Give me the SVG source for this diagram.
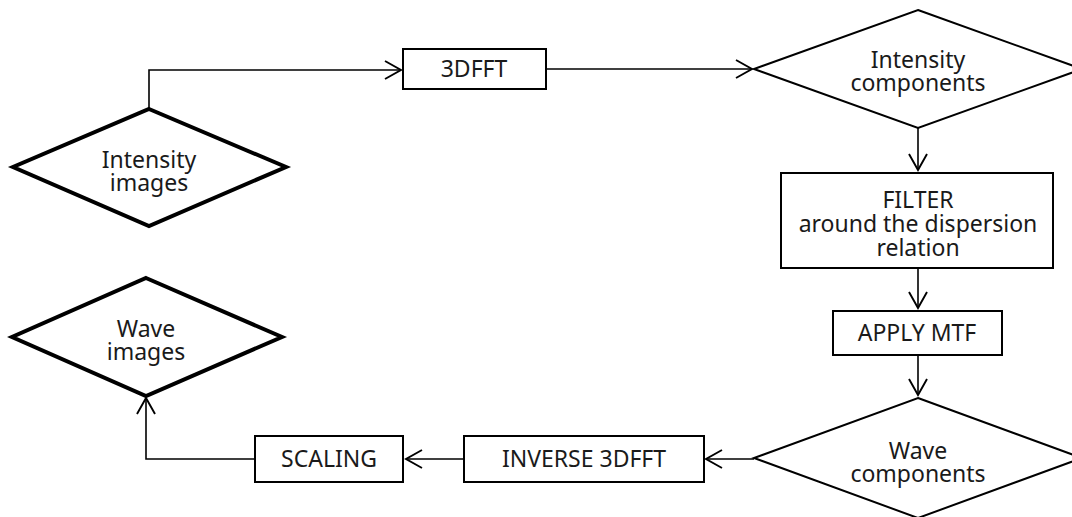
<svg xmlns="http://www.w3.org/2000/svg" width="1072" height="517" viewBox="0 0 1072 517">
  <style>
    text { font-family: "Noto Sans", "DejaVu Sans", sans-serif; font-size: 23px; fill: #1a1a1a; text-anchor: middle; }
    .box { fill: #fff; stroke: #000; stroke-width: 2; }
    .io { fill: #fff; stroke: #000; stroke-width: 4; stroke-linejoin: miter; }
    .dec { fill: #fff; stroke: #000; stroke-width: 2; }
    .link { fill: none; stroke: #000; stroke-width: 1.6; marker-end: url(#open); }
  </style>
  <defs>
    <marker id="open" viewBox="0 0 20 20" refX="18" refY="10" markerWidth="20" markerHeight="20" markerUnits="userSpaceOnUse" orient="auto">
      <path d="M2,1 L18,10 L2,19" fill="none" stroke="#000" stroke-width="1.9"/>
    </marker>
  </defs>

  <g id="connectors">
    <path class="link" d="M149,108 V70 H401"/>
    <path class="link" d="M546,69 H752"/>
    <path class="link" d="M918,128 V170"/>
    <path class="link" d="M918,268 V308"/>
    <path class="link" d="M918,355 V395"/>
    <path class="link" d="M754,459 H706"/>
    <path class="link" d="M464,459 H406"/>
    <path class="link" d="M255,459 H146 V398"/>
  </g>

  <g id="intensity-images">
    <polygon class="io" points="149,109 286,167 149,226 13,167"/>
    <text x="149" y="168">Intensity<tspan x="149" dy="23">images</tspan></text>
  </g>

  <g id="fft">
    <rect class="box" x="403" y="49" width="143" height="40"/>
    <text x="474" y="77">3DFFT</text>
  </g>

  <g id="intensity-components">
    <polygon class="dec" points="918,10 1082,69 918,128 754,69"/>
    <text x="918" y="68">Intensity<tspan x="918" dy="23">components</tspan></text>
  </g>

  <g id="filter">
    <rect class="box" x="781" y="173" width="272" height="95"/>
    <text x="918" y="208">FILTER<tspan x="918" dy="24">around the dispersion</tspan><tspan x="918" dy="24">relation</tspan></text>
  </g>

  <g id="mtf">
    <rect class="box" x="833" y="311" width="169" height="44"/>
    <text x="917" y="341">APPLY MTF</text>
  </g>

  <g id="wave-components">
    <polygon class="dec" points="918,398 1082,458 918,518 754,458"/>
    <text x="918" y="459">Wave<tspan x="918" dy="23">components</tspan></text>
  </g>

  <g id="inverse-fft">
    <rect class="box" x="464" y="436" width="240" height="46"/>
    <text x="584" y="467">INVERSE 3DFFT</text>
  </g>

  <g id="scaling">
    <rect class="box" x="255" y="436" width="148" height="46"/>
    <text x="329" y="467">SCALING</text>
  </g>

  <g id="wave-images">
    <polygon class="io" points="146,278 282,337 146,396 12,337"/>
    <text x="146" y="337">Wave<tspan x="146" dy="23">images</tspan></text>
  </g>
</svg>
